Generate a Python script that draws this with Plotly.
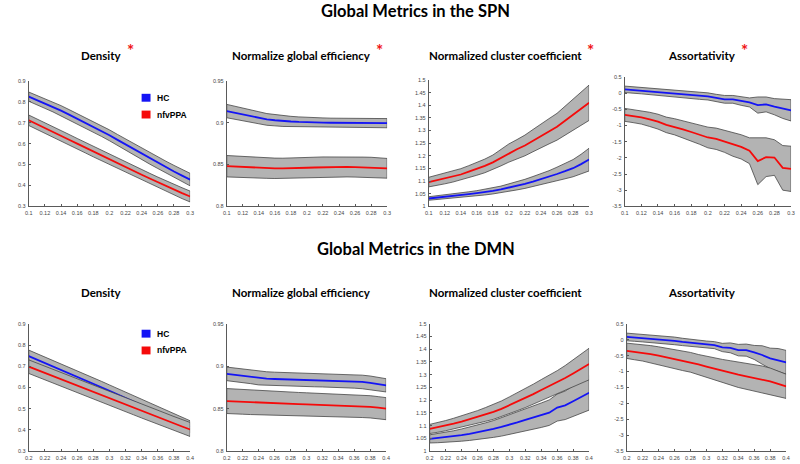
import plotly.graph_objects as go

# ---------------- data ----------------
x_spn = [0.10, 0.11, 0.12, 0.13, 0.14, 0.15, 0.16, 0.17, 0.18, 0.19, 0.20,
         0.21, 0.22, 0.23, 0.24, 0.25, 0.26, 0.27, 0.28, 0.29, 0.30]
x_dmn = [0.20, 0.21, 0.22, 0.23, 0.24, 0.25, 0.26, 0.27, 0.28, 0.29, 0.30,
         0.31, 0.32, 0.33, 0.34, 0.35, 0.36, 0.37, 0.38, 0.39, 0.40]

# SPN density
spn_den_hc = [0.825, 0.809, 0.792, 0.775, 0.758, 0.739, 0.720, 0.700, 0.680, 0.660, 0.640,
              0.618, 0.596, 0.574, 0.552, 0.530, 0.509, 0.488, 0.467, 0.447, 0.428]
spn_den_hc_err = [0.022, 0.022, 0.023, 0.023, 0.024, 0.024, 0.024, 0.025, 0.025, 0.025, 0.026,
                  0.026, 0.026, 0.027, 0.027, 0.028, 0.028, 0.028, 0.029, 0.029, 0.030]
spn_den_pp = [0.712, 0.694, 0.676, 0.657, 0.638, 0.619, 0.600, 0.581, 0.562, 0.543, 0.524,
              0.505, 0.487, 0.469, 0.451, 0.433, 0.415, 0.397, 0.380, 0.363, 0.347]
spn_den_pp_err = [0.025, 0.025, 0.025, 0.025, 0.025, 0.025, 0.025, 0.025, 0.025, 0.025, 0.025,
                  0.025, 0.025, 0.025, 0.025, 0.025, 0.025, 0.025, 0.025, 0.026, 0.026]

# SPN normalized global efficiency
spn_eff_hc = [0.914, 0.912, 0.910, 0.908, 0.906, 0.904, 0.903, 0.902, 0.9015, 0.901, 0.9005,
              0.9003, 0.9002, 0.900, 0.900, 0.900, 0.900, 0.8998, 0.8997, 0.8996, 0.8995]
spn_eff_hc_err = [0.008, 0.008, 0.0078, 0.0075, 0.0072, 0.007, 0.0067, 0.0064, 0.0062, 0.006, 0.0058,
                  0.0057, 0.0056, 0.0055, 0.0055, 0.0055, 0.0055, 0.0055, 0.0055, 0.0055, 0.0055]
spn_eff_pp = [0.848, 0.8475, 0.847, 0.8465, 0.846, 0.8457, 0.8455, 0.8455, 0.8455, 0.846, 0.8462,
              0.8465, 0.8468, 0.847, 0.847, 0.8472, 0.847, 0.8468, 0.8466, 0.846, 0.8455]
spn_eff_pp_err = [0.0128, 0.0127, 0.0125, 0.0124, 0.0123, 0.0122, 0.0122, 0.0121, 0.0122, 0.0122, 0.0123,
                  0.0123, 0.0123, 0.0122, 0.0121, 0.012, 0.012, 0.0121, 0.0121, 0.0118, 0.0118]

# SPN normalized cluster coefficient
spn_clu_hc = [1.031, 1.034, 1.037, 1.040, 1.044, 1.048, 1.052, 1.056, 1.061, 1.067, 1.074,
              1.081, 1.089, 1.098, 1.107, 1.117, 1.128, 1.139, 1.151, 1.167, 1.185]
spn_clu_hc_err = [0.007, 0.0075, 0.008, 0.0085, 0.009, 0.0095, 0.010, 0.011, 0.012, 0.013, 0.015,
                  0.016, 0.018, 0.020, 0.022, 0.024, 0.027, 0.030, 0.034, 0.039, 0.045]
spn_clu_pp = [1.096, 1.103, 1.110, 1.118, 1.126, 1.137, 1.148, 1.160, 1.174, 1.192, 1.211,
              1.226, 1.241, 1.260, 1.280, 1.297, 1.315, 1.339, 1.363, 1.386, 1.410]
spn_clu_pp_err = [0.019, 0.020, 0.021, 0.022, 0.023, 0.024, 0.025, 0.027, 0.029, 0.032, 0.036,
                  0.038, 0.041, 0.044, 0.047, 0.050, 0.053, 0.057, 0.061, 0.066, 0.070]

# SPN assortativity
spn_ass_hc = [0.12, 0.10, 0.08, 0.06, 0.04, 0.02, 0.00, -0.03, -0.06, -0.08, -0.10,
              -0.145, -0.19, -0.19, -0.245, -0.286, -0.367, -0.347, -0.418, -0.48, -0.53]
spn_ass_hc_err = [0.10, 0.10, 0.10, 0.10, 0.10, 0.10, 0.10, 0.105, 0.105, 0.11, 0.11,
                  0.11, 0.12, 0.12, 0.13, 0.14, 0.25, 0.23, 0.25, 0.30, 0.33]
spn_ass_pp = [-0.67, -0.71, -0.745, -0.81, -0.88, -0.98, -1.04, -1.12, -1.20, -1.28, -1.37,
              -1.41, -1.49, -1.59, -1.66, -1.78, -2.10, -1.98, -1.99, -2.31, -2.34]
spn_ass_pp_err = [0.20, 0.20, 0.21, 0.22, 0.23, 0.24, 0.25, 0.26, 0.28, 0.30, 0.32,
                  0.33, 0.34, 0.36, 0.375, 0.40, 0.73, 0.60, 0.55, 0.69, 0.70]

# DMN density
dmn_den_hc = [0.748, 0.732, 0.716, 0.700, 0.684, 0.667, 0.651, 0.634, 0.618, 0.601, 0.584,
              0.567, 0.550, 0.533, 0.516, 0.499, 0.482, 0.465, 0.448, 0.431, 0.415]
dmn_den_hc_err = [0.028, 0.028, 0.028, 0.028, 0.028, 0.028, 0.028, 0.028, 0.028, 0.028, 0.028,
                  0.028, 0.028, 0.028, 0.028, 0.028, 0.028, 0.028, 0.028, 0.028, 0.028]
dmn_den_pp = [0.698, 0.683, 0.668, 0.653, 0.638, 0.623, 0.608, 0.593, 0.578, 0.563, 0.548,
              0.533, 0.518, 0.503, 0.488, 0.473, 0.459, 0.445, 0.430, 0.416, 0.402]
dmn_den_pp_err = [0.032, 0.032, 0.032, 0.032, 0.032, 0.032, 0.032, 0.032, 0.032, 0.032, 0.032,
                  0.032, 0.032, 0.032, 0.032, 0.033, 0.033, 0.033, 0.033, 0.033, 0.033]

# DMN normalized global efficiency
dmn_eff_hc = [0.891, 0.8898, 0.8888, 0.8875, 0.886, 0.8855, 0.885, 0.8847, 0.8845, 0.8842, 0.884,
              0.8838, 0.8836, 0.8833, 0.883, 0.8827, 0.8822, 0.8815, 0.8805, 0.879, 0.8775]
dmn_eff_hc_err = [0.008, 0.008, 0.008, 0.008, 0.008, 0.008, 0.008, 0.008, 0.008, 0.008, 0.008,
                  0.008, 0.008, 0.008, 0.008, 0.008, 0.008, 0.008, 0.008, 0.008, 0.0078]
dmn_eff_pp = [0.859, 0.8585, 0.858, 0.8575, 0.857, 0.8567, 0.8563, 0.856, 0.8557, 0.8553, 0.855,
              0.8547, 0.8543, 0.854, 0.8537, 0.8533, 0.853, 0.8527, 0.8522, 0.8512, 0.850]
dmn_eff_pp_err = [0.0147, 0.0146, 0.0145, 0.0144, 0.0143, 0.0142, 0.0141, 0.0140, 0.0139, 0.0138, 0.0137,
                  0.0136, 0.0135, 0.0134, 0.0133, 0.0132, 0.0132, 0.0131, 0.0131, 0.0130, 0.0130]

# DMN normalized cluster coefficient
dmn_clu_hc = [1.048, 1.051, 1.054, 1.058, 1.063, 1.068, 1.074, 1.080, 1.087, 1.095, 1.103,
              1.113, 1.123, 1.132, 1.141, 1.151, 1.171, 1.180, 1.196, 1.212, 1.229]
dmn_clu_hc_err = [0.016, 0.018, 0.020, 0.022, 0.024, 0.026, 0.028, 0.031, 0.033, 0.036, 0.039,
                  0.041, 0.044, 0.046, 0.048, 0.050, 0.053, 0.056, 0.060, 0.064, 0.068]
dmn_clu_pp = [1.087, 1.093, 1.100, 1.108, 1.116, 1.125, 1.134, 1.144, 1.154, 1.166, 1.180,
              1.194, 1.208, 1.224, 1.240, 1.255, 1.270, 1.287, 1.305, 1.323, 1.342]
dmn_clu_pp_err = [0.018, 0.019, 0.020, 0.021, 0.022, 0.024, 0.025, 0.027, 0.029, 0.031, 0.033,
                  0.035, 0.037, 0.039, 0.041, 0.043, 0.046, 0.049, 0.053, 0.057, 0.062]

# DMN assortativity
dmn_ass_hc = [0.087, 0.07, 0.05, 0.03, 0.014, -0.01, -0.037, -0.07, -0.10, -0.125, -0.151,
              -0.17, -0.244, -0.255, -0.327, -0.327, -0.40, -0.48, -0.585, -0.637, -0.71]
dmn_ass_hc_err = [0.12, 0.12, 0.12, 0.12, 0.12, 0.12, 0.12, 0.115, 0.11, 0.11, 0.11,
                  0.11, 0.13, 0.155, 0.18, 0.19, 0.22, 0.29, 0.32, 0.36, 0.375]
dmn_ass_pp = [-0.348, -0.38, -0.41, -0.455, -0.503, -0.555, -0.606, -0.658, -0.71, -0.775, -0.844,
              -0.91, -0.979, -1.04, -1.10, -1.15, -1.20, -1.255, -1.31, -1.385, -1.464]
dmn_ass_pp_err = [0.24, 0.25, 0.26, 0.27, 0.28, 0.29, 0.30, 0.31, 0.31, 0.31, 0.32,
                  0.34, 0.36, 0.38, 0.40, 0.42, 0.43, 0.43, 0.42, 0.40, 0.38]

# tick values
xt_spn = [0.10, 0.12, 0.14, 0.16, 0.18, 0.20, 0.22, 0.24, 0.26, 0.28, 0.30]
xt_dmn = [0.20, 0.22, 0.24, 0.26, 0.28, 0.30, 0.32, 0.34, 0.36, 0.38, 0.40]
yt_den = [0.3, 0.4, 0.5, 0.6, 0.7, 0.8, 0.9]
yt_eff = [0.8, 0.85, 0.9, 0.95]
yt_clu = [1.0, 1.05, 1.1, 1.15, 1.2, 1.25, 1.3, 1.35, 1.4, 1.45, 1.5]
yt_ass = [-3.5, -3.0, -2.5, -2.0, -1.5, -1.0, -0.5, 0.0, 0.5]

group_names = ["HC", "nfvPPA"]
subtitles = ["Density", "Normalize global efficiency",
             "Normalized cluster coefficient", "Assortativity"]
row_titles = ["Global Metrics in the SPN", "Global Metrics in the DMN"]

# ---------------- styling / layout ----------------
W, H = 800, 464
BLUE = "rgb(20,20,245)"
RED = "rgb(245,10,10)"
GRAY = "rgb(179,179,179)"
EDGE = "rgb(70,70,70)"
AXC = "rgb(90,90,90)"
TICKFONT = dict(family="Liberation Sans, Arial", size=5.5, color="rgb(70,70,70)")
TITLEFONT = "Lato, Calibri, Open Sans, sans-serif"

# panel pixel boxes: (left, right, top, bottom)
panels = [
    (x_spn, spn_den_hc, spn_den_hc_err, spn_den_pp, spn_den_pp_err, xt_spn, yt_den, (25, 188, 79, 206)),
    (x_spn, spn_eff_hc, spn_eff_hc_err, spn_eff_pp, spn_eff_pp_err, xt_spn, yt_eff, (225, 387, 79, 206)),
    (x_spn, spn_clu_hc, spn_clu_hc_err, spn_clu_pp, spn_clu_pp_err, xt_spn, yt_clu, (429, 591, 78, 206)),
    (x_spn, spn_ass_hc, spn_ass_hc_err, spn_ass_pp, spn_ass_pp_err, xt_spn, yt_ass, (627, 795, 75, 206)),
    (x_dmn, dmn_den_hc, dmn_den_hc_err, dmn_den_pp, dmn_den_pp_err, xt_dmn, yt_den, (25, 188, 325, 454)),
    (x_dmn, dmn_eff_hc, dmn_eff_hc_err, dmn_eff_pp, dmn_eff_pp_err, xt_dmn, yt_eff, (225, 386, 325, 454)),
    (x_dmn, dmn_clu_hc, dmn_clu_hc_err, dmn_clu_pp, dmn_clu_pp_err, xt_dmn, yt_clu, (430, 591, 325, 454)),
    (x_dmn, dmn_ass_hc, dmn_ass_hc_err, dmn_ass_pp, dmn_ass_pp_err, xt_dmn, yt_ass, (629, 790, 325, 454)),
]


def fmt(v):
    return "%g" % round(v, 4)


def band(x, m, e, xa, ya):
    up = [a + b for a, b in zip(m, e)]
    lo = [a - b for a, b in zip(m, e)]
    xs = list(x) + list(x[::-1]) + [x[0]]
    ys = up + lo[::-1] + [up[0]]
    return go.Scatter(x=xs, y=ys, mode="lines", fill="toself", fillcolor=GRAY,
                      line=dict(color=EDGE, width=0.8), hoverinfo="skip",
                      showlegend=False, xaxis=xa, yaxis=ya)


fig = go.Figure()
layout = {}
for i, (x, hc, hce, pp, ppe, xt, yt, box) in enumerate(panels):
    n = i + 1
    xa, ya = "x%d" % n, "y%d" % n
    l, r, t, b = box
    fig.add_trace(band(x, hc, hce, xa, ya))
    fig.add_trace(go.Scatter(x=x, y=hc, mode="lines", line=dict(color=BLUE, width=1.8),
                             showlegend=False, name=group_names[0], xaxis=xa, yaxis=ya))
    fig.add_trace(band(x, pp, ppe, xa, ya))
    fig.add_trace(go.Scatter(x=x, y=pp, mode="lines", line=dict(color=RED, width=1.8),
                             showlegend=False, name=group_names[1], xaxis=xa, yaxis=ya))
    axcommon = dict(ticks="inside", ticklen=2, tickwidth=0.8, tickcolor=AXC, showline=True,
                    linecolor=AXC, linewidth=1, showgrid=False, zeroline=False,
                    tickfont=TICKFONT, fixedrange=True)
    layout["xaxis%d" % n] = dict(domain=[l / W, r / W], range=[xt[0], xt[-1]], tickvals=xt,
                                 ticktext=[fmt(v) for v in xt], anchor=ya, ticklabelstandoff=1,
                                 **axcommon)
    layout["yaxis%d" % n] = dict(domain=[1 - b / H, 1 - t / H], range=[yt[0], yt[-1]], tickvals=yt,
                                 ticktext=[fmt(v) for v in yt], anchor=xa, ticklabelstandoff=1,
                                 **axcommon)

# legend swatches (decoration) for the two Density panels
shapes = []
annotations = []
for top in (92, 331):
    for k, (name, col) in enumerate(zip(group_names, (BLUE, RED))):
        y0 = top + 17 * k
        shapes.append(dict(type="rect", xref="paper", yref="paper",
                           x0=139 / W, x1=148 / W, y0=1 - (y0 + 8) / H, y1=1 - y0 / H,
                           fillcolor=col, line=dict(width=0)))
        annotations.append(dict(text="<b>%s</b>" % name, x=153 / W, y=1 - (y0 + 4) / H,
                                xref="paper", yref="paper", xanchor="left", yanchor="middle",
                                showarrow=False,
                                font=dict(family="Liberation Sans, Arial", size=8.5, color="black")))

title_y = [8, 249]
sub_y = [53, 293]
sub_x = [98, 300, 507, 705]
star_x = [128, 379, 592, 748]
for row in range(2):
    annotations.append(dict(text="<b>%s</b>" % row_titles[row], x=416 / W, y=1 - title_y[row] / H,
                            xref="paper", yref="paper", xanchor="center", yanchor="middle",
                            showarrow=False, font=dict(family=TITLEFONT, size=16.5, color="black")))
    for c in range(4):
        annotations.append(dict(text="<b>%s</b>" % subtitles[c], x=sub_x[c] / W, y=1 - sub_y[row] / H,
                                xref="paper", yref="paper", xanchor="center", yanchor="middle",
                                showarrow=False, font=dict(family=TITLEFONT, size=11.5, color="black")))
        if row == 0:
            annotations.append(dict(text="<b>*</b>", x=star_x[c] / W, y=1 - 48 / H,
                                    xref="paper", yref="paper", xanchor="center", yanchor="middle",
                                    showarrow=False, font=dict(family=TITLEFONT, size=17, color="rgb(240,20,20)")))

layout["annotations"] = annotations
layout["shapes"] = shapes
fig.update_layout(width=W, height=H, margin=dict(l=0, r=0, t=0, b=0),
                  paper_bgcolor="white", plot_bgcolor="white", showlegend=False, **layout)

fig.write_html("out.html", config={"displayModeBar": False},
               post_script="document.body.style.margin='0';document.body.style.overflow='hidden';")
